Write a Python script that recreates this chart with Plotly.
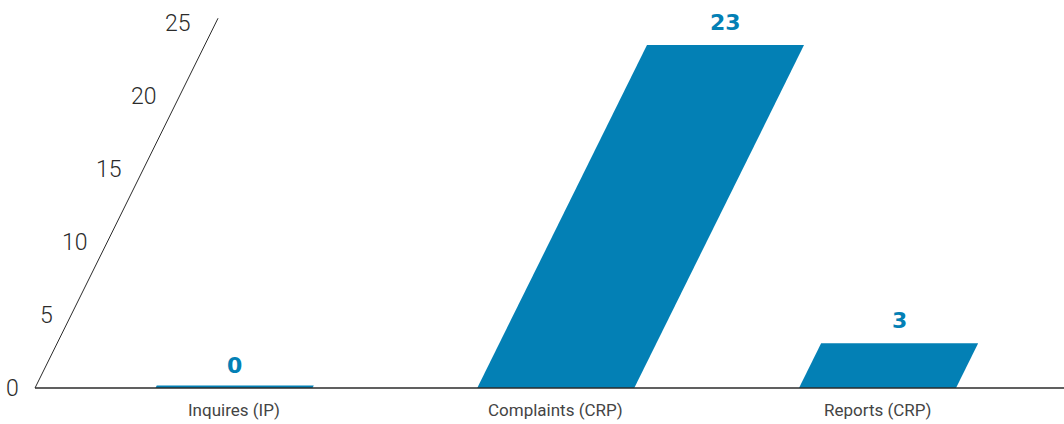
import plotly.graph_objects as go

# data
categories = ["Inquires (IP)", "Complaints (CRP)", "Reports (CRP)"]
values = [0, 23, 3]
tick_values = [0, 5, 10, 15, 20, 25]
tick_labels = ["0", "5", "10", "15", "20", "25"]

BLUE = "#0380b5"
INK = "#2b2b2b"
W, H = 1064, 424

# pixel geometry of the skewed frame
FIRST_PX = 234.0      # centre of first bar base, px
STEP_PX = 321.75      # px between category centres
BASE_PX = 388.0       # baseline y, px
PX_PER_UNIT = 14.91   # vertical px per value unit
SLANT = 0.495         # horizontal px per vertical px
BAR_HALF = 0.244      # half bar width, in category units
MIN_H = 0.17          # zero bars still show as a thin strip

k = SLANT * PX_PER_UNIT / STEP_PX          # x shift per value unit
x_range = [-FIRST_PX / STEP_PX, (W - FIRST_PX) / STEP_PX]
y_range = [-(H - BASE_PX) / PX_PER_UNIT, BASE_PX / PX_PER_UNIT]
axis_x0 = (35 - FIRST_PX) / STEP_PX


def px_x(px):
    return (px - FIRST_PX) / STEP_PX


def px_y(py):
    return (BASE_PX - py) / PX_PER_UNIT


fig = go.Figure()

for i, (cat, v) in enumerate(zip(categories, values)):
    h = max(v, MIN_H)
    xs = [i - BAR_HALF, i + BAR_HALF, i + BAR_HALF + k * h, i - BAR_HALF + k * h, i - BAR_HALF]
    ys = [0, 0, h, h, 0]
    fig.add_trace(go.Scatter(x=xs, y=ys, mode="lines", fill="toself", fillcolor=BLUE,
                             line=dict(width=0), hoverinfo="skip", showlegend=False))
    fig.add_annotation(x=i + k * v, y=v, text=f"<b>{v}</b>", showarrow=False, yshift=23,
                       font=dict(family="DejaVu Sans", size=22, color=BLUE))
    fig.add_annotation(x=i, y=0, text=cat, showarrow=False, yshift=-22,
                       font=dict(family="Roboto", size=17, color="#444444"))

# baseline and slanted value axis
fig.add_trace(go.Scatter(x=[axis_x0, x_range[1]], y=[0, 0], mode="lines",
                         line=dict(color=INK, width=1.3), hoverinfo="skip", showlegend=False))
top = 24.8
fig.add_trace(go.Scatter(x=[axis_x0, axis_x0 + k * top], y=[0, top], mode="lines",
                         line=dict(color=INK, width=1), hoverinfo="skip", showlegend=False))

# tick labels follow their own slightly flatter diagonal
for t, lab in zip(tick_values, tick_labels):
    py = BASE_PX - 14.6 * t
    right = 20.7 + 0.472 * (BASE_PX - py)
    fig.add_annotation(x=px_x(right), y=px_y(py), text=lab, showarrow=False,
                       xanchor="right", yanchor="middle",
                       font=dict(family="Roboto", size=23, color=INK, weight=300))

fig.update_xaxes(range=x_range, visible=False, fixedrange=True)
fig.update_yaxes(range=y_range, visible=False, fixedrange=True)
fig.update_layout(width=W, height=H, autosize=False, margin=dict(l=0, r=0, t=0, b=0, pad=0),
                  plot_bgcolor="white", paper_bgcolor="white")

fig.write_html("out.html", config={"displayModeBar": False},
               post_script="document.body.style.margin='0px';")
